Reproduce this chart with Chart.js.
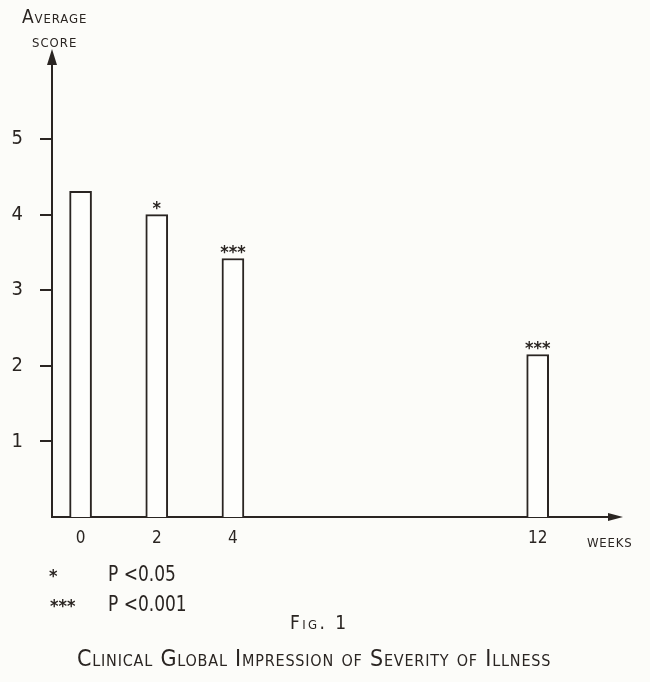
<!DOCTYPE html>
<html>
<head>
<meta charset="utf-8">
<script src="https://cdn.jsdelivr.net/npm/chart.js@4"></script>
<style>
  body { margin: 0; background: #fcfcf9; }
  #wrap { position: relative; width: 650px; height: 682px; }
  .t {
    position: absolute;
    color: #2a2522;
    font-family: "DejaVu Sans Condensed", sans-serif;
    font-variant: small-caps;
    white-space: nowrap;
    line-height: 1;
  }
  .narrow { transform: scaleX(0.86); transform-origin: left top; }
</style>
</head>
<body>
<div id="wrap">
  <canvas id="scoreChart" width="650" height="682"></canvas>
  <div class="t" style="left:22px;top:7px;font-size:19px;letter-spacing:0.9px">Average</div>
  <div class="t" style="left:32px;top:31px;font-size:19px;letter-spacing:1px">score</div>
  <div class="t" style="left:587px;top:531px;font-size:19px;letter-spacing:0.8px">weeks</div>
  <div class="t" style="left:49px;top:567px;font-size:18px;font-weight:bold">*</div>
  <div class="t narrow" style="left:108px;top:563px;font-size:22px">P &lt;0.05</div>
  <div class="t" style="left:50px;top:597px;font-size:18px;font-weight:bold">***</div>
  <div class="t narrow" style="left:108px;top:593px;font-size:22px">P &lt;0.001</div>
  <div class="t" style="left:290px;top:613px;font-size:19px;letter-spacing:2.4px">Fig. 1</div>
  <div class="t" style="left:77px;top:647px;font-size:23px;letter-spacing:0.8px">Clinical Global Impression of Severity of Illness</div>
</div>
<script>
// weeks of treatment and mean CGI severity score
var weeks = [0, 2, 4, 12];
var scores = [4.31, 4.0, 3.42, 2.15];
var stars = ['', '*', '***', '***'];
var yTicks = [1, 2, 3, 4, 5];

var ink = '#2a2522';
var fontFamily = '"DejaVu Sans Condensed", sans-serif';

var points = weeks.map(function (w, i) {
    return { x: w, y: scores[i] };
});

// arrow heads at the end of both axes + significance marks above the bars
var extras = {
    id: 'extras',
    afterDraw: function (chart) {
        var ctx = chart.ctx;
        var area = chart.chartArea;
        ctx.save();
        ctx.fillStyle = ink;
        // y arrow
        ctx.beginPath();
        ctx.moveTo(area.left, area.top - 7);
        ctx.lineTo(area.left - 5, area.top + 9);
        ctx.lineTo(area.left + 5, area.top + 9);
        ctx.closePath();
        ctx.fill();
        // x arrow
        ctx.beginPath();
        ctx.moveTo(area.right + 8, area.bottom);
        ctx.lineTo(area.right - 7, area.bottom - 4);
        ctx.lineTo(area.right - 7, area.bottom + 4);
        ctx.closePath();
        ctx.fill();

        ctx.font = 'bold 18px ' + fontFamily;
        ctx.textAlign = 'center';
        ctx.textBaseline = 'alphabetic';
        chart.getDatasetMeta(0).data.forEach(function (bar, i) {
            if (stars[i]) {
                ctx.fillText(stars[i], bar.x, bar.y - 1);
            }
        });
        ctx.restore();
    }
};

var ctx = document.getElementById('scoreChart').getContext('2d');
var chart = new Chart(ctx, {
    type: 'bar',
    data: {
        datasets: [{
            data: points,
            backgroundColor: '#fefefc',
            borderColor: ink,
            borderWidth: 2,
            barThickness: 22
        }]
    },
    options: {
        responsive: false,
        animation: false,
        devicePixelRatio: 1,
        layout: { padding: { top: 56, right: 35, bottom: 135, left: 0 } },
        plugins: { legend: { display: false }, tooltip: { enabled: false } },
        scales: {
            x: {
                type: 'linear',
                offset: false,
                min: -0.75,
                max: 14.03,
                afterBuildTicks: function (scale) {
                    scale.ticks = weeks.map(function (w) { return { value: w }; });
                },
                afterFit: function (scale) { scale.height = 30; },
                grid: { display: false, drawTicks: false },
                border: { display: true, color: ink, width: 2 },
                ticks: {
                    color: ink,
                    padding: 11,
                    maxRotation: 0,
                    font: { family: fontFamily, size: 17 }
                }
            },
            y: {
                min: 0,
                max: 6.1,
                afterBuildTicks: function (scale) {
                    scale.ticks = yTicks.map(function (v) { return { value: v }; });
                },
                afterFit: function (scale) { scale.width = 52; },
                grid: {
                    drawOnChartArea: false,
                    drawTicks: true,
                    tickLength: 12,
                    color: ink,
                    lineWidth: 2
                },
                border: { display: true, color: ink, width: 2 },
                ticks: {
                    color: ink,
                    padding: 17,
                    font: { family: fontFamily, size: 20 }
                }
            }
        }
    },
    plugins: [extras]
});
</script>
</body>
</html>
